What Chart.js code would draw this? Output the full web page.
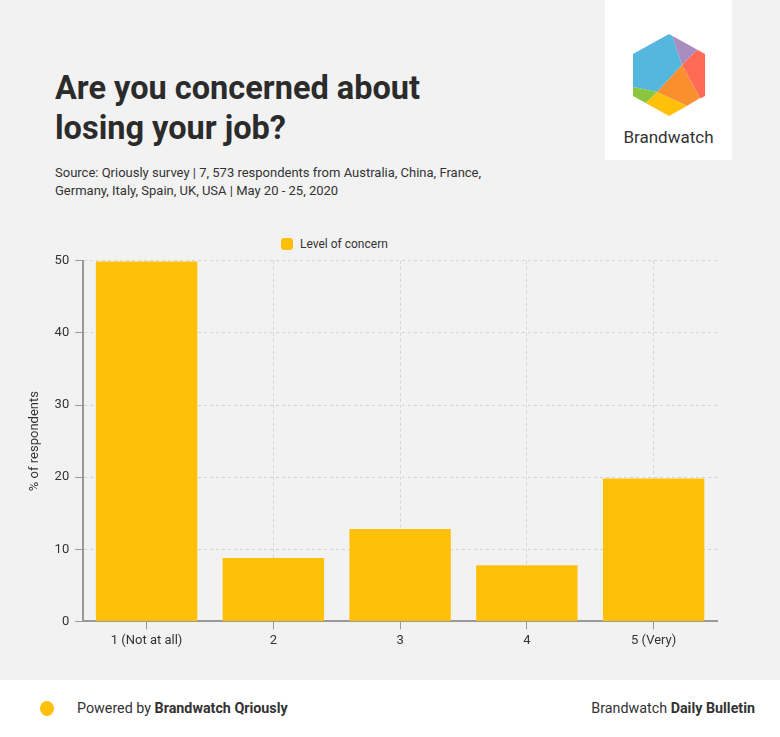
<!DOCTYPE html>
<html>
<head>
<meta charset="utf-8">
<script src="https://cdn.jsdelivr.net/npm/chart.js@4"></script>
<style>
  html, body { margin:0; padding:0; }
  body { width:780px; height:737px; background:#f2f2f2; font-family: Roboto, "Noto Sans", sans-serif; position:relative; overflow:hidden; color:#333; }
  #title { position:absolute; left:55px; top:68px; font-size:32.5px; font-weight:700; line-height:40px; color:#2b2b2b; margin:0; }
  #sub { position:absolute; left:55px; top:164px; font-size:13px; line-height:18px; color:#333; }
  #logoBox { position:absolute; left:605px; top:0; width:127px; height:160px; background:#fff; }
  #logoText { position:absolute; left:0; width:127px; top:127px; text-align:center; font-size:17px; color:#333; }
  #legend { position:absolute; left:281px; top:237px; font-size:12px; color:#333; display:flex; align-items:center; }
  #legend span.box { display:inline-block; width:12px; height:12px; border-radius:3px; background:#FFC00A; margin-right:7px; }
  #chartWrap { position:absolute; left:0; top:247px; width:780px; height:418px; }
  #footer { position:absolute; left:0; top:680px; width:780px; height:57px; background:#fff; }
  #dot { position:absolute; left:40px; top:21px; width:14px; height:15px; border-radius:50%; background:#FFC00A; }
  #pow { position:absolute; left:77px; top:20px; font-size:14.3px; color:#333; }
  #bul { position:absolute; right:25px; top:20px; font-size:14.3px; color:#333; }
</style>
</head>
<body>
<h1 id="title">Are you concerned about<br>losing your job?</h1>
<div id="sub">Source: Qriously survey | 7, 573 respondents from Australia, China, France,<br>Germany, Italy, Spain, UK, USA | May 20 - 25, 2020</div>
<div id="logoBox">
  <svg width="127" height="130" viewBox="605 0 127 130" style="position:absolute;left:0;top:0">
    <defs>
      <clipPath id="hex">
        <path d="M669,34 L705,54 L705,96 L669,116 L633,96 L633,54 Z"/>
      </clipPath>
    </defs>
    <g clip-path="url(#hex)">
      <polygon points="600,20 667,20 682,65 657,92 600,80" fill="#56B7DE"/>
      <polygon points="667,20 720,20 720,40 697,50 682,65" fill="#A98DC0"/>
      <polygon points="697,50 720,40 720,110 700,98 682,65" fill="#FF6B57"/>
      <polygon points="682,65 700,98 687,106 657,92" fill="#F98F2F"/>
      <polygon points="657,92 687,106 720,110 720,130 600,130 647,102" fill="#FFC00A"/>
      <polygon points="600,80 657,92 647,102 600,130" fill="#8CC63E"/>
    </g>
  </svg>
  <div id="logoText">Brandwatch</div>
</div>
<div id="legend"><span class="box"></span>Level of concern</div>
<div id="chartWrap"><canvas id="c"></canvas></div>
<div id="footer">
  <div id="dot"></div>
  <div id="pow">Powered by <b>Brandwatch Qriously</b></div>
  <div id="bul">Brandwatch <b>Daily Bulletin</b></div>
</div>
<script>
const categories = ["1 (Not at all)", "2", "3", "4", "5 (Very)"];
const seriesName = "Level of concern";
const concernValues = [49.9, 8.8, 12.8, 7.8, 19.8];
const yTicks = [0, 10, 20, 30, 40, 50];

Chart.defaults.font.family = 'Roboto, "Noto Sans", sans-serif';
Chart.defaults.color = '#333';

new Chart(document.getElementById('c'), {
  type: 'bar',
  data: {
    labels: categories,
    datasets: [{
      label: seriesName,
      data: concernValues,
      backgroundColor: '#FFC00A',
      borderWidth: 0,
      barPercentage: 0.8,
      categoryPercentage: 1.0
    }]
  },
  options: {
    responsive: true,
    maintainAspectRatio: false,
    animation: false,
    layout: { padding: { left: 27, right: 63, top: 5, bottom: 12 } },
    plugins: { legend: { display: false }, tooltip: { enabled: false } },
    scales: {
      x: {
        grid: { offset: false, color: '#d4d4d4', tickColor: '#999', tickLength: 8, tickBorderDash: [], lineWidth: 1 },
        border: { color: '#999', width: 2, dash: [3, 3] },
        ticks: { font: { size: 13 }, color: '#333', padding: 4 }
      },
      y: {
        min: 0, max: 50,
        afterBuildTicks: (axis) => { axis.ticks = yTicks.map(v => ({ value: v })); },
        grid: { color: '#d4d4d4', tickColor: '#999', tickLength: 8, tickBorderDash: [], lineWidth: 1 },
        border: { color: '#999', width: 2, dash: [3, 3] },
        ticks: { font: { size: 13 }, color: '#333', padding: 6 },
        title: { display: true, text: '% of respondents', font: { size: 13 }, color: '#333', padding: { top: 0, bottom: 6 } }
      }
    }
  }
});
</script>
</body>
</html>
